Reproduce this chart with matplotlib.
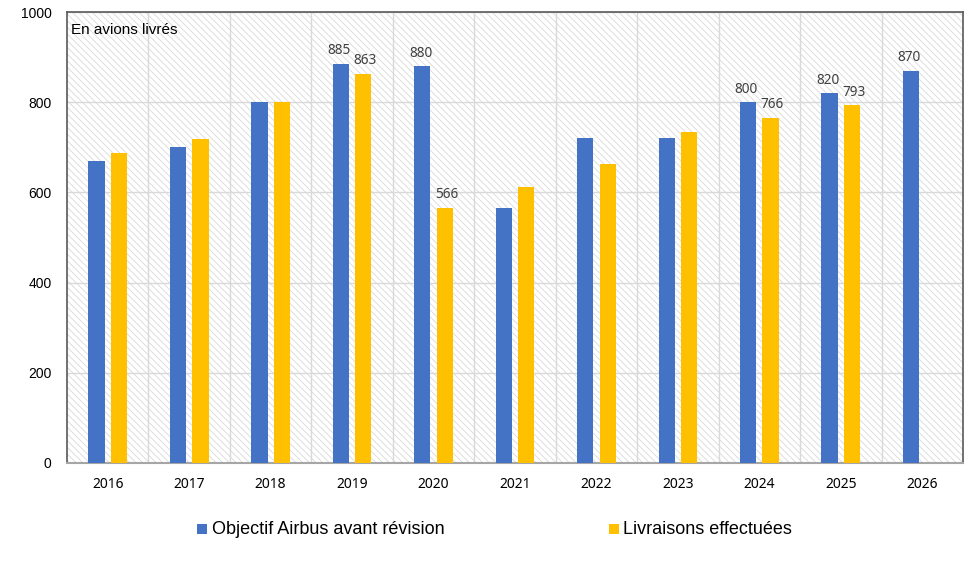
import matplotlib
matplotlib.use("Agg")
import matplotlib.pyplot as plt
import numpy as np

years = ["2016", "2017", "2018", "2019", "2020", "2021", "2022", "2023", "2024", "2025", "2026"]
objectif = [670, 700, 800, 885, 880, 566, 720, 720, 800, 820, 870]
livraisons = [688, 718, 800, 863, 566, 611, 664, 735, 766, 793, None]
labels_obj = {"2019": 885, "2020": 880, "2024": 800, "2025": 820, "2026": 870}
labels_liv = {"2019": 863, "2020": 566, "2024": 766, "2025": 793}

blue = "#4472C4"
gold = "#FFC000"

fig = plt.figure(figsize=(9.73, 5.73), dpi=100)
ax = fig.add_axes([67/973, 1-463/573, (963-67)/973, (463-12)/573])

x = np.arange(len(years))
w = 0.2
off = 0.138

# hatched background
plt.rcParams['hatch.color'] = '#D9D9D9'
plt.rcParams['hatch.linewidth'] = 0.6
ax.add_patch(plt.Rectangle((0, 0), 1, 1, transform=ax.transAxes, facecolor='white',
                           edgecolor='#D9D9D9', hatch='\\\\\\\\\\', lw=0, zorder=0))

ax.bar(x - off, objectif, width=w, color=blue, zorder=3, label="Objectif Airbus avant révision")
liv_x = [xi + off for xi, v in zip(x, livraisons) if v is not None]
liv_v = [v for v in livraisons if v is not None]
ax.bar(liv_x, liv_v, width=w, color=gold, zorder=3, label="Livraisons effectuées")

for i, y in enumerate(years):
    if y in labels_obj:
        ax.text(i - off - 0.02, labels_obj[y] + 12, str(labels_obj[y]), ha='center', va='bottom',
                fontsize=9.8, color='#404040', family='Noto Sans', zorder=4)
    if y in labels_liv:
        ax.text(i + off + 0.02, labels_liv[y] + 12, str(labels_liv[y]), ha='center', va='bottom',
                fontsize=9.8, color='#404040', family='Noto Sans', zorder=4)

ax.set_xlim(-0.5, len(years) - 0.5)
ax.set_ylim(0, 1000)
ax.set_yticks(range(0, 1001, 200))
ax.set_xticks(x)
ax.set_xticklabels(years, family='Noto Sans', fontsize=10)
for lab in ax.get_yticklabels():
    lab.set_family('Liberation Sans')
    lab.set_fontsize(10)
ax.tick_params(axis='both', length=0)
ax.tick_params(axis='x', pad=10)
ax.tick_params(axis='y', pad=11)

for yv in range(200, 1001, 200):
    ax.axhline(yv, color='#D9D9D9', lw=1, zorder=1)
for xv in np.arange(0.5, len(years) - 0.5, 1):
    ax.axvline(xv, color='#D9D9D9', lw=1, zorder=1)

for s in ['left', 'top', 'right']:
    ax.spines[s].set_color('#595959')
    ax.spines[s].set_linewidth(1.2)
ax.spines['bottom'].set_color('#A6A6A6')
ax.spines['bottom'].set_linewidth(1.5)

ax.text(0.004, 0.975, "En avions livrés", transform=ax.transAxes, ha='left', va='top',
        fontsize=11, family='Liberation Sans', zorder=5)

# legend
ly = 1 - 529/573
sq = 10
for (mx, tx, col, txt) in [(197, 212, blue, "Objectif Airbus avant révision"),
                           (609, 623, gold, "Livraisons effectuées")]:
    fig.patches.append(plt.Rectangle((mx/973, ly - sq/2/573), sq/973, sq/573,
                                     transform=fig.transFigure, facecolor=col, edgecolor='none'))
    fig.text(tx/973, ly, txt, fontsize=13, family='Liberation Sans', va='center', ha='left')

fig.savefig("out.png", dpi=100)
